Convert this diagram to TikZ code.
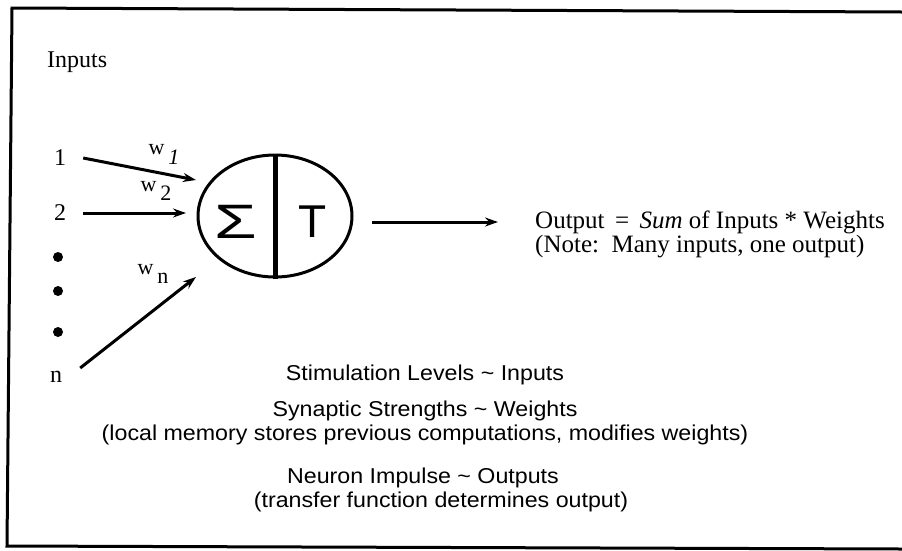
\documentclass[tikz,border=0pt]{standalone}
\usepackage{fontspec}
\setmainfont{Liberation Serif}
\newfontfamily\arialf{Liberation Sans}
\usetikzlibrary{arrows.meta,shapes.geometric}
\begin{document}
\begin{tikzpicture}[x=1pt,y=-1pt,
  lab/.style={font=\fontsize{24}{26}\selectfont, inner sep=0},
  outlab/.style={font=\fontsize{25}{27}\selectfont, inner sep=0},
  wlab/.style={font=\fontsize{22}{22}\selectfont, inner sep=0},
  bot/.style={font=\arialf\fontsize{21.5}{24}\selectfont, inner sep=0},
  arr/.style={line width=3pt, -{Stealth[length=13pt,width=9pt]}},
  dot/.style={circle, fill, inner sep=0, minimum size=10pt},
]
\useasboundingbox (0,0) rectangle (902,550);
\fill[white] (0,0) rectangle (902,550);
\draw[line width=3pt] (902,12) -- (12,8) -- (7,546) -- (902,549);

\node[lab, anchor=west] (inputs) at (47,62) {Inputs};
\node[lab] (in1) at (60,158) {1};
\node[lab] (in2) at (60,213) {2};
\node[dot] (d1) at (58,257) {};
\node[dot] (d2) at (58,291) {};
\node[dot] (d3) at (58,332) {};
\node[lab] (inn) at (56,377) {n};

\node[ellipse, draw, line width=3pt, minimum width=154pt, minimum height=122pt] (neuron) at (275,216) {};
\draw[line width=5pt] (neuron.north) -- (neuron.south);
\node[font=\arialf\fontsize{46}{50}\selectfont, inner sep=0] (sig) at (236,222) {\scalebox{1.5}[1.05]{Σ}};
\node[font=\arialf\fontsize{46}{50}\selectfont, inner sep=0] (tt) at (313,222) {T};

\coordinate (e1) at (196,180);
\coordinate (e2) at (186,213);
\coordinate (en) at (196,277);
\draw[arr] ([xshift=17pt]in1.east) -- (e1);
\draw[arr] ([xshift=17pt]in2.east) -- (e2);
\draw[arr] ([xshift=18pt,yshift=9pt]inn.east) -- (en);

\node[wlab] (w1) at (164,154) {w\,\raisebox{-10pt}{\textit{1}}};
\node[wlab] (w2) at (156,191) {w\,\raisebox{-9pt}{2}};
\node[wlab] (wn) at (153,274) {w\,\raisebox{-9pt}{n}};

\node[outlab, anchor=west] (out1) at (535,222) {Output \,=\, \textit{Sum} of Inputs * Weights};
\node[outlab, anchor=west] (out2) at (535,247) {(Note:\, Many inputs, one output)};
\coordinate (o1) at (372,222);
\coordinate (o2) at (498,222);
\draw[arr] (o1) -- (o2);

\node[bot] (b1) at (425,375) {\scalebox{1.08}[1]{Stimulation Levels \textasciitilde{} Inputs}};
\node[bot] (b2) at (425,411) {\scalebox{1.08}[1]{Synaptic Strengths \textasciitilde{} Weights}};
\node[bot] (b3) at (425,435) {\scalebox{1.08}[1]{(local memory stores previous computations, modifies weights)}};
\node[bot] (b4) at (423,478) {\scalebox{1.08}[1]{Neuron Impulse \textasciitilde{} Outputs}};
\node[bot] (b5) at (441,502) {\scalebox{1.08}[1]{(transfer function determines output)}};
\end{tikzpicture}
\end{document}
